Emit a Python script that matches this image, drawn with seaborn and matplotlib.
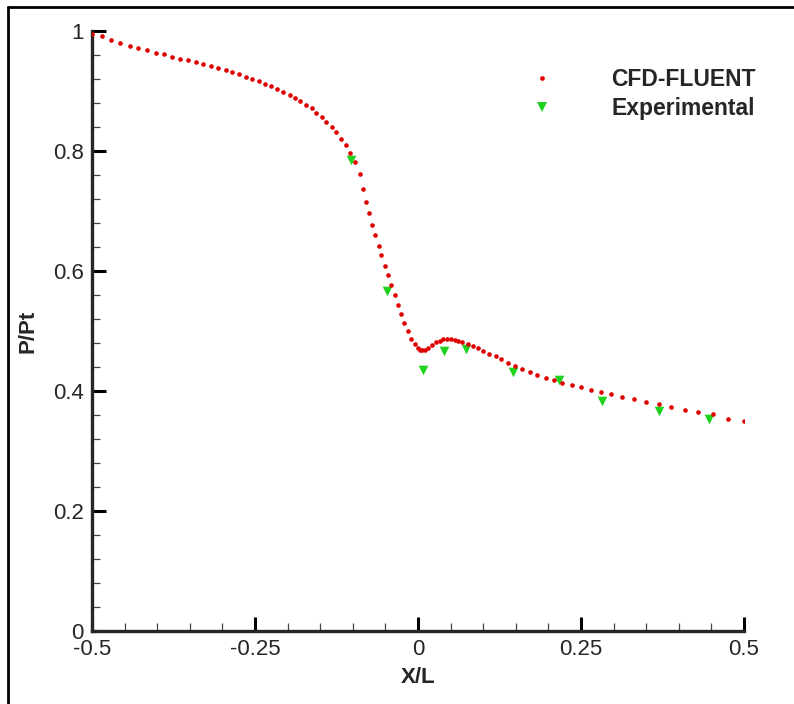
import numpy as np
import pandas as pd
import matplotlib
matplotlib.use("Agg")
import matplotlib.pyplot as plt
from matplotlib.lines import Line2D
from matplotlib.ticker import MultipleLocator
import seaborn as sns

# --- DATA ---
cfd_x = [-0.500, -0.485, -0.471, -0.457, -0.442, -0.429, -0.415, -0.402, -0.390, -0.377,
         -0.365, -0.353, -0.340, -0.329, -0.317, -0.306, -0.295, -0.285, -0.275, -0.264,
         -0.254, -0.244, -0.235, -0.225, -0.216, -0.207, -0.197, -0.189, -0.181, -0.172,
         -0.163, -0.156, -0.148, -0.141, -0.132, -0.125, -0.118, -0.110, -0.104, -0.097,
         -0.089, -0.085, -0.080, -0.075, -0.070, -0.066, -0.060, -0.056, -0.051, -0.046,
         -0.041, -0.036, -0.030, -0.026, -0.021, -0.016, -0.010, -0.005, 0.000, 0.003,
         0.006, 0.010, 0.016, 0.021, 0.028, 0.033, 0.039, 0.045, 0.051, 0.056,
         0.061, 0.067, 0.076, 0.084, 0.092, 0.100, 0.109, 0.119, 0.128, 0.138,
         0.149, 0.160, 0.172, 0.183, 0.196, 0.208, 0.221, 0.236, 0.250, 0.265,
         0.281, 0.296, 0.313, 0.332, 0.350, 0.369, 0.388, 0.409, 0.430, 0.452,
         0.475, 0.500]
cfd_y = [0.995, 0.992, 0.985, 0.980, 0.975, 0.972, 0.968, 0.964, 0.961, 0.957,
         0.954, 0.952, 0.948, 0.945, 0.941, 0.939, 0.935, 0.931, 0.928, 0.924,
         0.920, 0.916, 0.912, 0.908, 0.903, 0.898, 0.893, 0.888, 0.883, 0.876,
         0.871, 0.864, 0.856, 0.848, 0.840, 0.831, 0.820, 0.810, 0.796, 0.781,
         0.761, 0.737, 0.715, 0.696, 0.677, 0.660, 0.642, 0.626, 0.609, 0.593,
         0.576, 0.560, 0.544, 0.528, 0.513, 0.500, 0.487, 0.478, 0.471, 0.469,
         0.468, 0.468, 0.472, 0.477, 0.481, 0.484, 0.486, 0.486, 0.486, 0.4855,
         0.484, 0.481, 0.478, 0.475, 0.471, 0.467, 0.462, 0.458, 0.453, 0.447,
         0.442, 0.436, 0.431, 0.427, 0.422, 0.418, 0.414, 0.410, 0.406, 0.402,
         0.398, 0.395, 0.390, 0.386, 0.382, 0.378, 0.374, 0.369, 0.365, 0.361,
         0.354, 0.350]

exp_x = [-0.102, -0.047, 0.008, 0.040, 0.074, 0.145, 0.216, 0.282, 0.370, 0.447]
exp_y = [0.785, 0.567, 0.435, 0.467, 0.470, 0.432, 0.418, 0.383, 0.366, 0.354]

x_ticks = [-0.5, -0.25, 0, 0.25, 0.5]
x_tick_labels = ["-0.5", "-0.25", "0", "0.25", "0.5"]
y_ticks = [0, 0.2, 0.4, 0.6, 0.8, 1.0]
y_tick_labels = ["0", "0.2", "0.4", "0.6", "0.8", "1"]

RED = "#e00000"
GREEN = "#1ed21e"

cfd = pd.DataFrame({"x": cfd_x, "y": cfd_y})
exp = pd.DataFrame({"x": exp_x, "y": exp_y})

sns.set_style("ticks")
plt.rcParams["font.family"] = ["Liberation Sans", "DejaVu Sans"]

fig = plt.figure(figsize=(7.94, 7.04), dpi=100)
ax = fig.add_axes([92 / 794, 1 - 631 / 704, 652 / 794, 600 / 704])

sns.scatterplot(data=cfd, x="x", y="y", ax=ax, color=RED, marker="o", s=11,
                linewidth=0, zorder=3)
sns.scatterplot(data=exp, x="x", y="y", ax=ax, color=GREEN, marker="v", s=48,
                linewidth=0, zorder=2)

ax.set_xlim(-0.5, 0.5)
ax.set_ylim(0, 1)
ax.set_xticks(x_ticks)
ax.set_xticklabels(x_tick_labels)
ax.set_yticks(y_ticks)
ax.set_yticklabels(y_tick_labels)
ax.xaxis.set_minor_locator(MultipleLocator(0.05))
ax.yaxis.set_minor_locator(MultipleLocator(0.04))

sns.despine(ax=ax)
for side in ["left", "bottom"]:
    ax.spines[side].set_linewidth(2.4)
ax.tick_params(which="major", direction="in", length=10, width=2.2,
               labelsize=16, pad=6, color="black")
ax.tick_params(which="minor", direction="in", length=6, width=0.9, color="#444444")

ax.set_xlabel("X/L", fontsize=16, fontweight="bold", labelpad=5)
ax.set_ylabel("P/Pt", fontsize=16, fontweight="bold", labelpad=10)

handles = [
    Line2D([], [], linestyle="none", marker="o", markersize=3.4,
           markerfacecolor=RED, markeredgewidth=0),
    Line2D([], [], linestyle="none", marker="v", markersize=7,
           markerfacecolor=GREEN, markeredgewidth=0),
]
ax.legend(handles, ["CFD-FLUENT", "Experimental"], loc="upper left",
          bbox_to_anchor=(508 / 794, 1 - 57 / 704), bbox_transform=fig.transFigure,
          frameon=False, borderpad=0, handlelength=2, handletextpad=2.0,
          labelspacing=0.25, prop={"size": 16.5, "weight": "bold"})

# outer frame (top and left edges visible in the reference)
fig.add_artist(Line2D([8 / 794, 8 / 794], [0, 1 - 7 / 704], transform=fig.transFigure,
                      color="black", linewidth=2))
fig.add_artist(Line2D([8 / 794, 1], [1 - 7 / 704, 1 - 7 / 704], transform=fig.transFigure,
                      color="black", linewidth=2))

fig.savefig("out.png", dpi=100)
plt.close(fig)
